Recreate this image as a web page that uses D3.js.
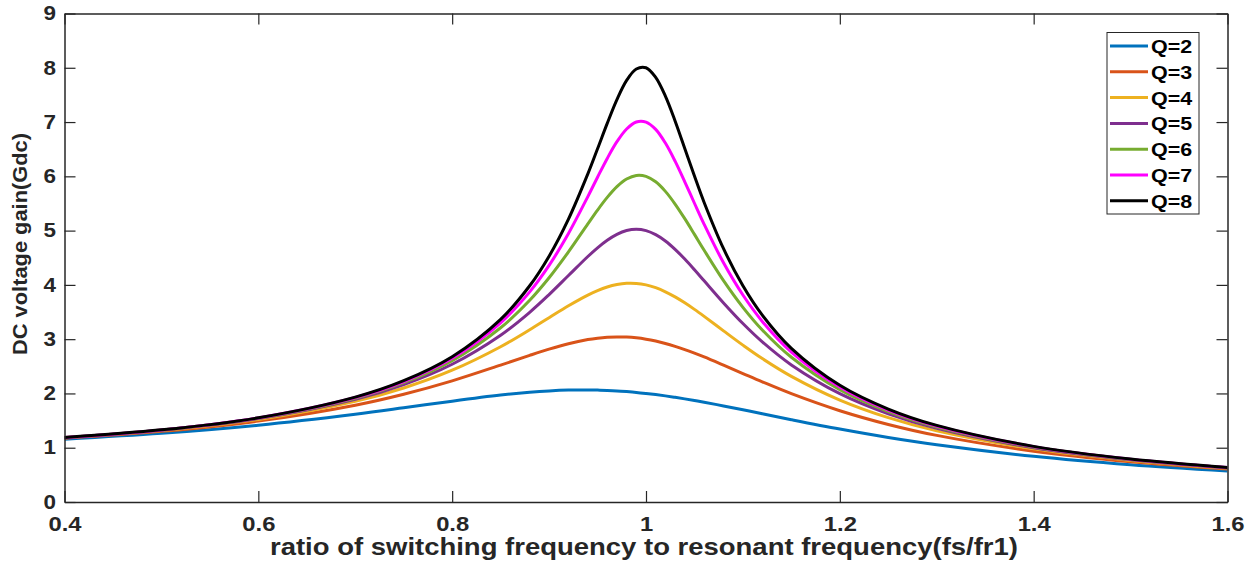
<!DOCTYPE html>
<html><head><meta charset="utf-8">
<script src="https://cdn.jsdelivr.net/npm/d3@7"></script>
<style>body{margin:0;background:#fff;} svg{display:block;}</style>
</head><body>
<svg id="chart" width="1250" height="569"></svg>
<script>
const xValues = [0.4,0.5,0.6,0.7,0.75,0.8,0.85,0.88,0.9,0.92,0.94,0.95,0.96,0.97,0.98,0.99,1.0,1.01,1.02,1.03,1.04,1.05,1.06,1.08,1.1,1.12,1.15,1.2,1.25,1.3,1.4,1.5,1.6];
const seriesNames = ["Q=2","Q=3","Q=4","Q=5","Q=6","Q=7","Q=8"];
const q2 = [1.158,1.265,1.415,1.617,1.735,1.858,1.970,2.022,2.047,2.062,2.065,2.062,2.056,2.047,2.034,2.019,2.000,1.979,1.955,1.928,1.900,1.870,1.838,1.770,1.699,1.626,1.517,1.344,1.189,1.055,0.842,0.686,0.570];
const q3 = [1.176,1.302,1.491,1.783,1.985,2.232,2.522,2.702,2.816,2.916,2.992,3.018,3.035,3.042,3.039,3.025,3.000,2.965,2.921,2.868,2.808,2.742,2.672,2.521,2.367,2.214,1.996,1.682,1.429,1.227,0.937,0.743,0.607];
const q4 = [1.182,1.315,1.521,1.855,2.101,2.428,2.861,3.174,3.396,3.616,3.813,3.895,3.961,4.006,4.029,4.027,4.000,3.948,3.873,3.779,3.670,3.549,3.420,3.153,2.890,2.643,2.315,1.878,1.554,1.311,0.979,0.766,0.621];
const q5 = [1.185,1.322,1.536,1.891,2.162,2.538,3.073,3.495,3.821,4.172,4.523,4.683,4.822,4.931,5.001,5.025,5.000,4.926,4.809,4.655,4.476,4.279,4.075,3.668,3.288,2.950,2.525,1.995,1.625,1.356,1.000,0.778,0.628];
const q6 = [1.187,1.325,1.544,1.911,2.198,2.605,3.210,3.716,4.131,4.608,5.124,5.378,5.612,5.810,5.950,6.017,6.000,5.899,5.723,5.490,5.220,4.931,4.638,4.079,3.587,3.169,2.666,2.069,1.667,1.383,1.012,0.785,0.632];
const q7 = [1.188,1.327,1.549,1.924,2.220,2.648,3.301,3.872,4.359,4.947,5.627,5.984,6.330,6.638,6.873,7.002,7.000,6.865,6.613,6.280,5.900,5.504,5.116,4.407,3.813,3.327,2.763,2.118,1.694,1.400,1.020,0.789,0.634];
const q8 = [1.188,1.329,1.552,1.933,2.235,2.677,3.365,3.984,4.529,5.212,6.046,6.508,6.976,7.414,7.768,7.978,8.000,7.822,7.477,7.021,6.515,6.005,5.519,4.667,3.984,3.444,2.832,2.151,1.713,1.411,1.025,0.791,0.636];
const seriesValues = [q2,q3,q4,q5,q6,q7,q8];
const seriesColors = ["#0072BD","#D95319","#EDB120","#7E2F8E","#77AC30","#FF00FF","#000000"];
const xTicks = [0.4,0.6,0.8,1.0,1.2,1.4,1.6];
const xTickLabels = ["0.4","0.6","0.8","1","1.2","1.4","1.6"];
const yTicks = [0,1,2,3,4,5,6,7,8,9];
const xTitle = "ratio of switching frequency to resonant frequency(fs/fr1)";
const yTitle = "DC voltage gain(Gdc)";

(function(){
const svg = d3.select("#chart");
const L = 64.5, R = 1227.5, T = 13.5, B = 502;
const x = d3.scaleLinear().domain([0.4,1.6]).range([L,R]);
const y = d3.scaleLinear().domain([0,9]).range([B,T]);
const font = "'Liberation Sans', Arial, Helvetica, sans-serif";
const axisColor = "#262626";

function stretch(sel, k){
  sel.each(function(){
    const len = this.getComputedTextLength();
    if (len > 0) d3.select(this).attr("textLength", len*k).attr("lengthAdjust","spacingAndGlyphs");
  });
}

const plot = svg.append("g");
plot.append("defs").append("clipPath").attr("id","clip").append("rect")
  .attr("x",L).attr("y",T).attr("width",R-L).attr("height",B-T);

const line = d3.line().x((d,i)=>x(xValues[i])).y(d=>y(d)).curve(d3.curveCatmullRom.alpha(0.5));
const lines = plot.append("g").attr("clip-path","url(#clip)");
seriesValues.forEach((vals,k)=>{
  lines.append("path").attr("d",line(vals)).attr("fill","none")
    .attr("stroke",seriesColors[k]).attr("stroke-width",3).attr("stroke-linejoin","round");
});

const tickLen = 11;
const gBottom = svg.append("g").attr("transform",`translate(0,${B})`)
  .call(d3.axisBottom(x).tickValues(xTicks).tickFormat((d,i)=>xTickLabels[i]).tickSizeInner(-tickLen).tickSizeOuter(0).tickPadding(15));
const gTop = svg.append("g").attr("transform",`translate(0,${T})`)
  .call(d3.axisTop(x).tickValues(xTicks).tickFormat("").tickSizeInner(-tickLen).tickSizeOuter(0));
const gLeft = svg.append("g").attr("transform",`translate(${L},0)`)
  .call(d3.axisLeft(y).tickValues(yTicks).tickSizeInner(-tickLen).tickSizeOuter(0).tickPadding(8.5));
const gRight = svg.append("g").attr("transform",`translate(${R},0)`)
  .call(d3.axisRight(y).tickValues(yTicks).tickFormat("").tickSizeInner(-tickLen).tickSizeOuter(0));
[gBottom,gTop,gLeft,gRight].forEach(g=>{
  g.selectAll("path.domain").attr("stroke",axisColor).attr("stroke-width",1.5);
  g.selectAll(".tick line").attr("stroke",axisColor).attr("stroke-width",1.2);
  g.selectAll(".tick text").attr("fill",axisColor).attr("font-family",font)
    .attr("font-size",19.5).attr("font-weight","bold");
});
gBottom.selectAll(".tick text").attr("dy","0.71em");
stretch(gBottom.selectAll(".tick text"), 1.22);
stretch(gLeft.selectAll(".tick text"), 1.15);

const xt = svg.append("text").attr("x",644).attr("y",555).attr("text-anchor","middle")
  .attr("font-family",font).attr("font-size",24).attr("font-weight","bold").attr("fill",axisColor)
  .text(xTitle);
xt.attr("textLength",748).attr("lengthAdjust","spacingAndGlyphs");
const yt = svg.append("text").attr("transform",`translate(27,244) rotate(-90)`).attr("text-anchor","middle")
  .attr("font-family",font).attr("font-size",19.5).attr("font-weight","bold").attr("fill",axisColor)
  .text(yTitle);
yt.attr("textLength",222).attr("lengthAdjust","spacingAndGlyphs");

const lg = svg.append("g");
lg.append("rect").attr("x",1107).attr("y",32.5).attr("width",92).attr("height",181.5)
  .attr("fill","#fff").attr("stroke","#262626").attr("stroke-width",1);
seriesNames.forEach((n,k)=>{
  const yy = 46 + k*25.8;
  lg.append("line").attr("x1",1110).attr("x2",1148).attr("y1",yy).attr("y2",yy)
    .attr("stroke",seriesColors[k]).attr("stroke-width",3);
  const t = lg.append("text").attr("x",1151).attr("y",yy+7)
    .attr("font-family",font).attr("font-size",19).attr("font-weight","bold").attr("fill","#000").text(n);
  stretch(t, 1.13);
});
})();
</script>
</body></html>
